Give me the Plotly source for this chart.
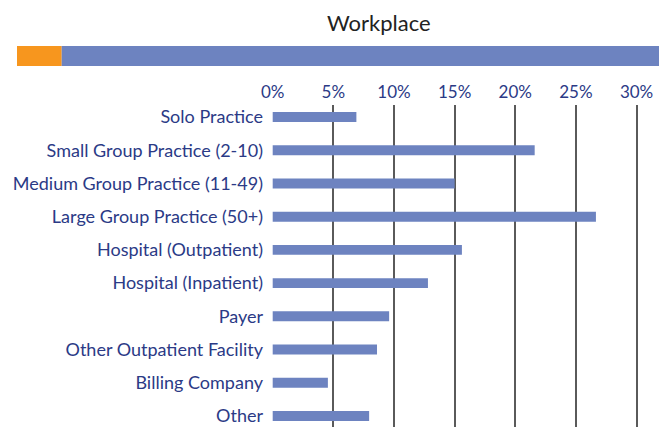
import plotly.graph_objects as go

categories = [
    "Solo Practice",
    "Small Group Practice (2-10)",
    "Medium Group Practice (11-49)",
    "Large Group Practice (50+)",
    "Hospital (Outpatient)",
    "Hospital (Inpatient)",
    "Payer",
    "Other Outpatient Facility",
    "Billing Company",
    "Other",
]
values = [6.9, 21.6, 15.0, 26.65, 15.6, 12.8, 9.6, 8.6, 4.55, 7.95]
tick_vals = [0, 5, 10, 15, 20, 25, 30]
tick_text = ["0%", "5%", "10%", "15%", "20%", "25%", "30%"]
title_text = "Workplace"

W, H = 668, 427
OX, OY = 8, 8  # page body margin offset
BAR = "#6d83c0"
TXT = "#2b3a86"
ORANGE = "#f7961e"


def px(x):
    return (x - OX) / W


def py(y):
    return 1 - (y - OY) / H


fig = go.Figure()
fig.add_trace(go.Bar(
    x=values, y=list(range(len(categories))), orientation="h",
    marker=dict(color=BAR, line=dict(width=0)), width=0.3,
    hoverinfo="skip",
))

fig.update_layout(
    template="none",
    width=W, height=H,
    margin=dict(l=0, r=0, t=0, b=0, pad=0),
    paper_bgcolor="white", plot_bgcolor="white",
    showlegend=False,
    font=dict(family="Lato", color=TXT),
    xaxis=dict(
        automargin=False,
        domain=[px(272), px(659)],
        range=[-0.058, 31.85],
        side="top",
        tickvals=tick_vals, ticktext=tick_text,
        showgrid=True, gridcolor="#5a5a5a", gridwidth=1.5,
        zeroline=False, showline=False, ticks="",
        ticklabelstandoff=3,
        tickfont=dict(size=17, color=TXT, family="Lato"),
    ),
    yaxis=dict(
        automargin=False,
        domain=[py(427), py(105)],
        range=[9.331, -0.361],
        tickvals=list(range(len(categories))), ticktext=categories,
        showgrid=False, zeroline=False, showline=False, ticks="",
        ticklabelstandoff=8,
        tickfont=dict(size=18, color=TXT, family="Lato"),
    ),
    shapes=[
        dict(type="rect", xref="paper", yref="paper",
             x0=px(17), x1=px(61.7), y0=py(66), y1=py(46),
             fillcolor=ORANGE, line=dict(width=0), layer="above"),
        dict(type="rect", xref="paper", yref="paper",
             x0=px(61.7), x1=px(659), y0=py(66), y1=py(46),
             fillcolor=BAR, line=dict(width=0), layer="above"),
    ],
    annotations=[
        dict(text=title_text, xref="paper", yref="paper",
             x=px(379), y=py(22), xanchor="center", yanchor="middle",
             showarrow=False, font=dict(size=22, color="#222222", family="Lato")),
    ],
)

fig.write_html("out.html")
